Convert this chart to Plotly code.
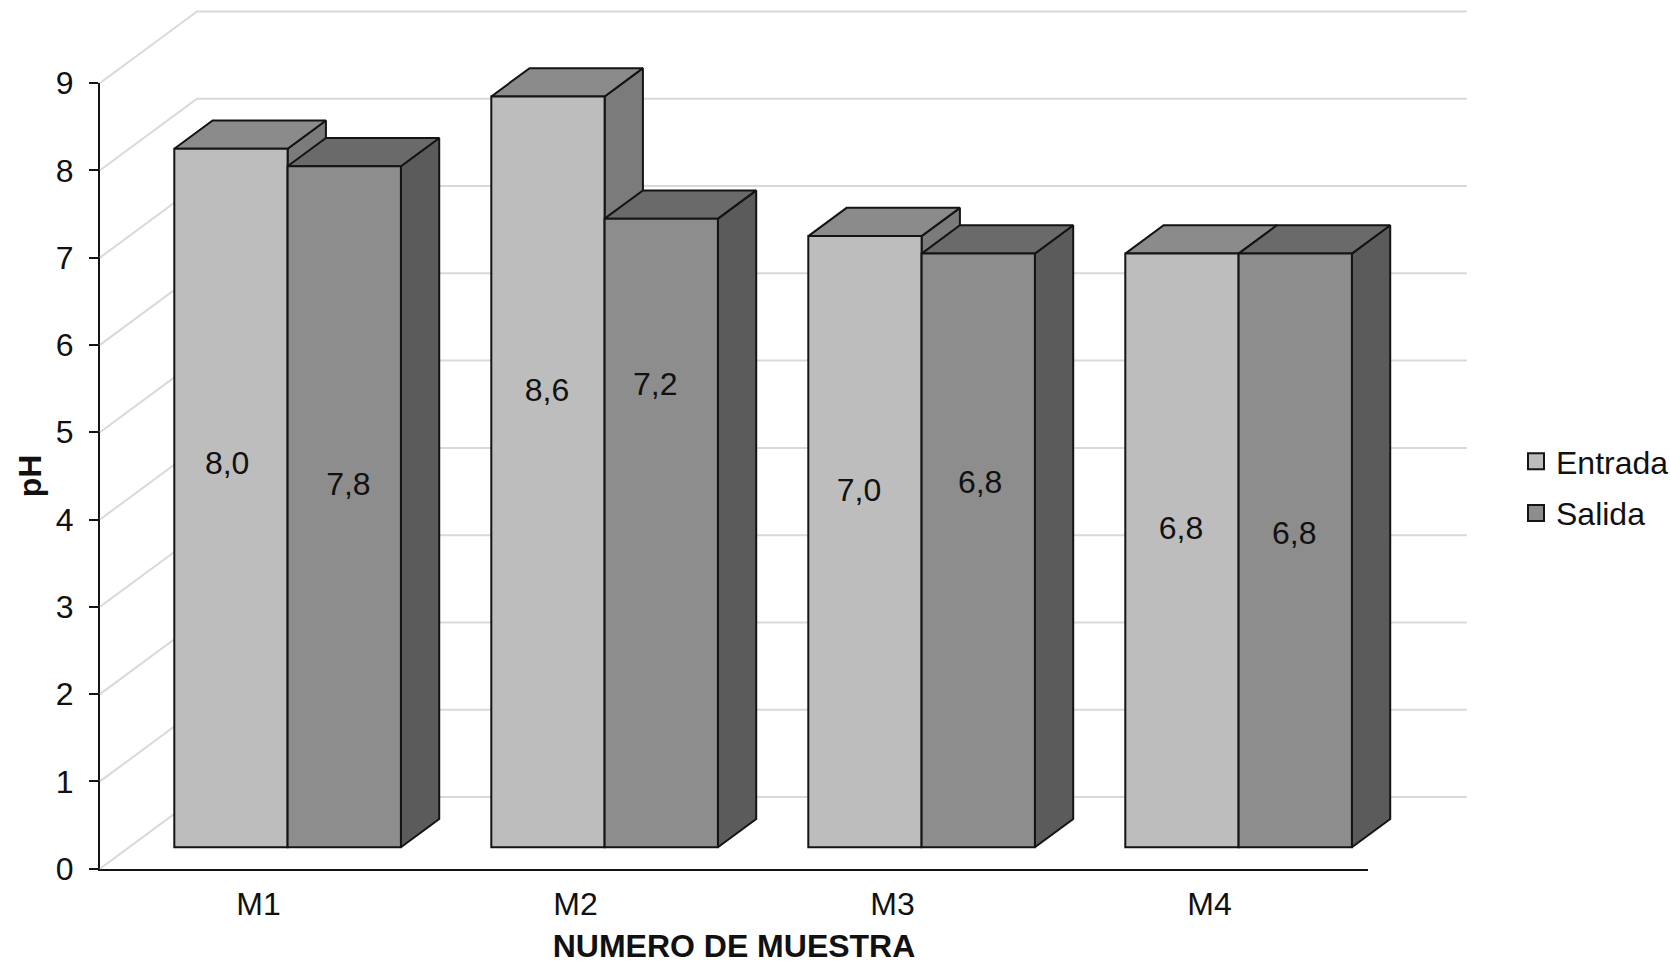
import plotly.graph_objects as go

# pH per sample, inlet and outlet
CATEGORIES = ["M1", "M2", "M3", "M4"]
ENTRADA = [8.0, 8.6, 7.0, 6.8]
SALIDA = [7.8, 7.2, 6.8, 6.8]
Y_TICKS = list(range(10))

# Label heights on the pH scale and sideways nudges in category units
ENTRADA_LABEL_Y = [4.615, 5.445, 4.305, 3.865]
SALIDA_LABEL_Y = [4.37, 5.52, 4.40, 3.81]
ENTRADA_LABEL_DX = [-0.012, -0.003, -0.019, -0.003]
SALIDA_LABEL_DX = [0.013, -0.019, 0.006, -0.003]

# Page and axis geometry in pixels
W, H = 1670, 964
AX_L, AX_R, AX_B, AX_T = 100.0, 1368.0, 868.7, 83.0
PX_PER_CAT = (AX_R - AX_L) / len(CATEGORIES)
PX_PER_PH = (AX_B - AX_T) / 9.0

# Oblique projection: full floor depth, expressed in axis units
DEPTH_X = 97.0 / PX_PER_CAT
DEPTH_Y = 71.6 / PX_PER_PH
BAR_FRONT = 0.30   # fraction of the floor depth in front of the bars
BAR_DEPTH = 0.395  # fraction of the floor depth taken by a bar
BAR_W = 113.3 / PX_PER_CAT

C_FRONT = ("#bdbdbd", "#8d8d8d")
C_TOP = ("#8b8b8b", "#6a6a6a")
C_SIDE = ("#7b7b7b", "#5b5b5b")
EDGE = "#141414"
GRID = "#d9d9d9"
FONT = "Liberation Sans, Arial, sans-serif"
FS = 32

# Full-page axes in the same units as the visible ones
x_full = [(0 - AX_L) / PX_PER_CAT - 0.5, (W - AX_L) / PX_PER_CAT - 0.5]
y_full = [(AX_B - H) / PX_PER_PH, AX_B / PX_PER_PH]

fig = go.Figure()


def poly(xs, ys, color):
    fig.add_trace(go.Scatter(
        x=xs + xs[:1], y=ys + ys[:1], mode="lines", fill="toself",
        fillcolor=color, line=dict(color=EDGE, width=2),
        xaxis="x2", yaxis="y2", showlegend=False, hoverinfo="skip",
    ))


# Swatches for the legend, and the category scale of the visible axis
for name, color in zip(("Entrada", "Salida"), C_FRONT):
    fig.add_trace(go.Scatter(
        x=CATEGORIES, y=[None] * len(CATEGORIES), name=name, mode="markers",
        legendgroup=name,
        marker=dict(symbol="square", size=16, color=color,
                    line=dict(color=EDGE, width=2)),
        xaxis="x", yaxis="y", hoverinfo="skip",
    ))

# Back wall and left wall gridlines
x_left, x_right = -0.5, len(CATEGORIES) - 0.5
for v in Y_TICKS:
    fig.add_trace(go.Scatter(
        x=[x_left, x_left + DEPTH_X, x_right + DEPTH_X + 0.006],
        y=[v, v + DEPTH_Y, v + DEPTH_Y],
        mode="lines", line=dict(color=GRID, width=2),
        xaxis="x2", yaxis="y2", showlegend=False, hoverinfo="skip",
    ))

# Tops and sides of the prisms, back to front within each group
fx = DEPTH_X * BAR_FRONT
fy = DEPTH_Y * BAR_FRONT
dx = DEPTH_X * BAR_DEPTH
dy = DEPTH_Y * BAR_DEPTH
for i in range(len(CATEGORIES)):
    for s, values in enumerate((ENTRADA, SALIDA)):
        left = i + fx - BAR_W + s * BAR_W
        right = left + BAR_W
        top = values[i] + fy
        poly([right, right + dx, right + dx, right],
             [fy, fy + dy, top + dy, top], C_SIDE[s])
        poly([left, left + dx, right + dx, right],
             [top, top + dy, top + dy, top], C_TOP[s])

# Front faces and their value labels
for s, (name, values) in enumerate((("Entrada", ENTRADA), ("Salida", SALIDA))):
    centres = [i + fx + (s - 0.5) * BAR_W for i in range(len(CATEGORIES))]
    fig.add_trace(go.Bar(
        x=centres, y=values, base=fy, width=BAR_W, name=name,
        marker=dict(color=C_FRONT[s], line=dict(color=EDGE, width=2)),
        xaxis="x3", yaxis="y3", showlegend=False, hoverinfo="skip",
    ))
for s, (values, label_y, label_dx) in enumerate((
    (ENTRADA, ENTRADA_LABEL_Y, ENTRADA_LABEL_DX),
    (SALIDA, SALIDA_LABEL_Y, SALIDA_LABEL_DX),
)):
    centres = [i + fx + (s - 0.5) * BAR_W + label_dx[i]
               for i in range(len(CATEGORIES))]
    fig.add_trace(go.Scatter(
        x=centres, y=label_y, mode="text",
        text=[f"{v:.1f}".replace(".", ",") for v in values],
        textposition="middle center",
        textfont=dict(family=FONT, size=FS, color="#111111"),
        xaxis="x3", yaxis="y3", showlegend=False, hoverinfo="skip",
    ))

hidden = dict(visible=False, showgrid=False, zeroline=False, fixedrange=True)
fig.update_layout(
    width=W, height=H,
    margin=dict(l=0, r=0, t=0, b=0, autoexpand=False),
    paper_bgcolor="white", plot_bgcolor="rgba(0,0,0,0)",
    font=dict(family=FONT, size=FS, color="#111111"),
    barmode="overlay",
    xaxis=dict(
        domain=[AX_L / W, AX_R / W], type="category",
        categoryorder="array", categoryarray=CATEGORIES,
        range=[-0.5, len(CATEGORIES) - 0.5],
        showgrid=False, zeroline=False, showline=True,
        linecolor=EDGE, linewidth=2, ticks="", ticklabelstandoff=6,
        tickfont=dict(size=FS),
        title=dict(text="<b>NUMERO DE MUESTRA</b>", standoff=25,
                   font=dict(size=FS)),
    ),
    yaxis=dict(
        domain=[(H - AX_B) / H, (H - AX_T) / H], range=[0, 9],
        tickvals=Y_TICKS, showgrid=False, zeroline=False, showline=True,
        linecolor=EDGE, linewidth=2, ticks="outside", ticklen=9, tickwidth=2,
        tickcolor=EDGE, ticklabelstandoff=9, tickfont=dict(size=FS),
        title=dict(text="<b>pH</b>", standoff=5, font=dict(size=FS)),
    ),
    xaxis2=dict(domain=[0, 1], range=x_full, anchor="y2", **hidden),
    yaxis2=dict(domain=[0, 1], range=y_full, anchor="x2", **hidden),
    xaxis3=dict(domain=[0, 1], range=x_full, anchor="y3", overlaying="x2", **hidden),
    yaxis3=dict(domain=[0, 1], range=y_full, anchor="x3", overlaying="y2", **hidden),
    legend=dict(
        x=1516 / W, y=(H - 434) / H, xanchor="left", yanchor="top",
        bgcolor="rgba(0,0,0,0)", font=dict(size=FS, family=FONT),
        itemwidth=30, tracegroupgap=7,
    ),
)

fig.write_html("out.html")
